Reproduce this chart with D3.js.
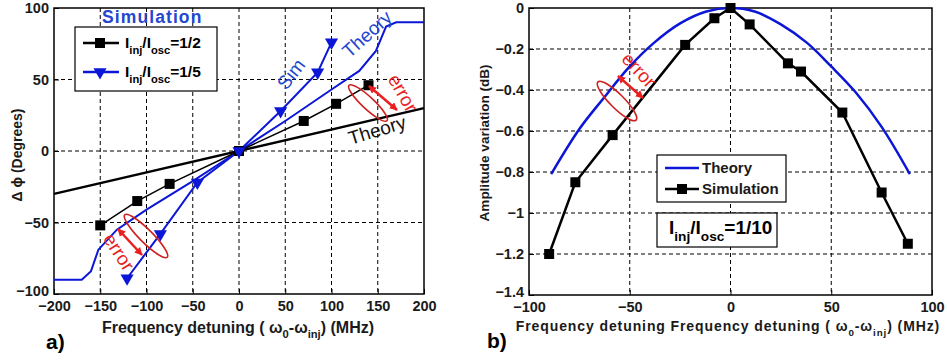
<!DOCTYPE html>
<html>
<head>
<meta charset="utf-8">
<script src="https://cdn.jsdelivr.net/npm/d3@7"></script>
<style>
  body { margin: 0; background: #fff; }
  svg { display: block; font-family: "Liberation Sans", Arial, sans-serif; font-weight: bold; }
</style>
</head>
<body>
<div id="chart"></div>
<script>
// ---- panel a) phase vs detuning
const phaseXTicks = [-200, -150, -100, -50, 0, 50, 100, 150, 200];
const phaseYTicks = [-100, -50, 0, 50, 100];
const theoryHalfX = [-200, 200];
const theoryHalfY = [-30, 30];
const simHalfX = [-150, -110, -75, 0, 70, 105, 140];
const simHalfY = [-52, -35, -23, 0, 21, 33, 46];
const simFifthX = [-121, -85, -45, 0, 45, 85, 100];
const simFifthY = [-89, -58, -22, 0, 28, 55, 76];
const theoryFifthX = [-200, -170, -160, -152, -132, -100, -50, 0, 50, 100, 130, 148, 159, 170, 200];
const theoryFifthY = [-90, -90, -84, -69, -55, -41, -21, 0, 21, 43, 56, 70, 87, 90, 90];

// ---- panel b) amplitude vs detuning
const ampXTicks = [-100, -50, 0, 50, 100];
const ampYTicks = [0, -0.2, -0.4, -0.6, -0.8, -1, -1.2, -1.4];
const ampSimX = [-90, -77, -58.5, -22.5, -8, 0, 9.5, 28.5, 35, 55.5, 75, 88];
const ampSimY = [-1.2, -0.85, -0.62, -0.18, -0.05, 0, -0.08, -0.27, -0.31, -0.51, -0.9, -1.15];
const ampTheoryX = [-89, -75, -63, -50, -38, -25, -12, 0, 12, 25, 38, 50, 62, 75, 89];
const ampTheoryY = [-0.81, -0.59, -0.44, -0.285, -0.17, -0.075, -0.017, 0, -0.017, -0.08, -0.17, -0.285, -0.41, -0.58, -0.81];

const width = 947, height = 360;
const blue = "#0b16d6", textBlue = "#2447cf", red = "#ea1f1f", ellRed = "#cf2020";

const svg = d3.select("#chart").append("svg")
  .attr("width", width).attr("height", height);

const defs = svg.append("defs");
defs.append("marker")
    .attr("id", "head")
    .attr("viewBox", "0 0 10 10")
    .attr("refX", 9).attr("refY", 5)
    .attr("markerWidth", 3.2).attr("markerHeight", 3.2)
    .attr("orient", "auto-start-reverse")
  .append("path")
    .attr("d", "M0,0L10,5L0,10Z")
    .attr("fill", red);

const zip = (xs, ys) => xs.map((x, i) => [x, ys[i]]);

function panel(opt) {
  const x = d3.scaleLinear().domain(opt.xDomain).range([opt.left, opt.right]);
  const y = d3.scaleLinear().domain(opt.yDomain).range([opt.bottom, opt.top]);
  const g = svg.append("g");

  // grid
  g.append("g").selectAll("line")
    .data(opt.xGrid).join("line")
      .attr("x1", d => x(d)).attr("x2", d => x(d))
      .attr("y1", opt.top).attr("y2", opt.bottom)
      .attr("stroke", "#000").attr("stroke-width", 1).attr("stroke-dasharray", "4,3");
  g.append("g").selectAll("line")
    .data(opt.yGrid).join("line")
      .attr("y1", d => y(d)).attr("y2", d => y(d))
      .attr("x1", opt.left).attr("x2", opt.right)
      .attr("stroke", "#000").attr("stroke-width", 1).attr("stroke-dasharray", "4,3");

  const xAxis = g.append("g")
    .attr("transform", `translate(0,${opt.bottom})`)
    .call(d3.axisBottom(x).tickValues(opt.xTicks).tickSize(-5).tickPadding(7).tickFormat(d3.format("d")));
  const yAxis = g.append("g")
    .attr("transform", `translate(${opt.left},0)`)
    .call(d3.axisLeft(y).tickValues(opt.yTicks).tickSize(-5).tickPadding(5).tickFormat(opt.yFormat));
  [xAxis, yAxis].forEach(a => {
    a.select(".domain").remove();
    a.selectAll("line").attr("stroke", "#000");
    a.selectAll("text")
      .attr("fill", "#1a1a1a")
      .style("font-size", "14.5px")
      .style("font-family", "'Liberation Sans', Arial, sans-serif")
      .style("font-weight", "bold");
  });
  // lowest y label sits a little higher, as in the figure
  yAxis.selectAll(".tick").filter(d => d === opt.yDomain[0]).select("text").attr("dy", "0.1em");

  g.append("rect")
    .attr("x", opt.left).attr("y", opt.top)
    .attr("width", opt.right - opt.left).attr("height", opt.bottom - opt.top)
    .attr("fill", "none").attr("stroke", "#000").attr("stroke-width", 1.5);

  return { x, y, g };
}

function ratio(parent, x, y, size, tail, subShift) {
  const t = parent.append("text").attr("x", x).attr("y", y)
    .style("font-size", size + "px").attr("fill", "#000");
  const sub = size * 0.72;
  t.append("tspan").text("I");
  t.append("tspan").attr("dy", subShift).style("font-size", sub + "px").text("inj");
  t.append("tspan").attr("dy", -subShift).text("/I");
  t.append("tspan").attr("dy", subShift).style("font-size", sub + "px").text("osc");
  t.append("tspan").attr("dy", -subShift).text(tail);
  return t;
}

function xLabel(parent, x, y, prefix, size, spacing) {
  const t = parent.append("text").attr("x", x).attr("y", y)
    .attr("text-anchor", "middle")
    .style("font-size", size + "px")
    .style("letter-spacing", spacing + "px")
    .attr("fill", "#1a1a1a");
  const s = size * 0.7;
  t.append("tspan").text(prefix + "( \u03c9");
  t.append("tspan").attr("dy", 5).style("font-size", s + "px").text("0");
  t.append("tspan").attr("dy", -5).text("-\u03c9");
  t.append("tspan").attr("dy", 5).style("font-size", s + "px").text("inj");
  t.append("tspan").attr("dy", -5).text(") (MHz)");
}

function ellipse(parent, cx, cy, rx, ry, angle) {
  parent.append("ellipse")
    .attr("transform", `translate(${cx},${cy}) rotate(${angle})`)
    .attr("rx", rx).attr("ry", ry)
    .attr("fill", "none").attr("stroke", ellRed).attr("stroke-width", 1.6);
}

function arrow(parent, x1, y1, x2, y2) {
  parent.append("line")
    .attr("x1", x1).attr("y1", y1).attr("x2", x2).attr("y2", y2)
    .attr("stroke", red).attr("stroke-width", 2.5)
    .attr("marker-start", "url(#head)").attr("marker-end", "url(#head)");
}

function note(parent, x, y, txt, angle, color, size) {
  parent.append("text")
    .attr("transform", `translate(${x},${y}) rotate(${angle})`)
    .attr("text-anchor", "middle").attr("dy", "0.35em")
    .style("font-size", size + "px").style("font-weight", "normal")
    .attr("fill", color).text(txt);
}

// ================= panel a
const A = panel({
  left: 54, right: 424, top: 8, bottom: 294,
  xDomain: [-200, 200], yDomain: [-100, 100],
  xTicks: phaseXTicks, yTicks: phaseYTicks,
  xGrid: [-150, -100, -50, 0, 50, 100, 150], yGrid: [-50, 0, 50],
  yFormat: d3.format("d")
});
const lineA = d3.line().x(d => A.x(d[0])).y(d => A.y(d[1]));

A.g.append("path").datum(zip(theoryHalfX, theoryHalfY))
  .attr("d", lineA).attr("fill", "none").attr("stroke", "#000").attr("stroke-width", 2.5);
A.g.append("path").datum(zip(theoryFifthX, theoryFifthY))
  .attr("d", lineA).attr("fill", "none").attr("stroke", blue).attr("stroke-width", 2);
A.g.append("path").datum(zip(simHalfX, simHalfY))
  .attr("d", lineA).attr("fill", "none").attr("stroke", "#000").attr("stroke-width", 1.5);
A.g.append("path").datum(zip(simFifthX, simFifthY))
  .attr("d", lineA).attr("fill", "none").attr("stroke", blue).attr("stroke-width", 2);

A.g.append("g").selectAll("rect")
  .data(zip(simHalfX, simHalfY)).join("rect")
    .attr("x", d => A.x(d[0]) - 5).attr("y", d => A.y(d[1]) - 5)
    .attr("width", 10).attr("height", 10).attr("fill", "#000");
const tri = d3.symbol().type(d3.symbolTriangle).size(75);
A.g.append("g").selectAll("path")
  .data(zip(simFifthX, simFifthY)).join("path")
    .attr("d", tri)
    .attr("transform", d => `translate(${A.x(d[0])},${A.y(d[1])}) rotate(180)`)
    .attr("fill", blue);

// legend a
const legA = A.g.append("g");
legA.append("rect").attr("x", 75).attr("y", 27).attr("width", 142).attr("height", 64)
  .attr("fill", "#fff").attr("stroke", "#000").attr("stroke-width", 1.2);
legA.append("line").attr("x1", 83).attr("x2", 119).attr("y1", 43).attr("y2", 43)
  .attr("stroke", "#000").attr("stroke-width", 2.5);
legA.append("rect").attr("x", 95).attr("y", 38).attr("width", 10).attr("height", 10).attr("fill", "#000");
legA.append("line").attr("x1", 83).attr("x2", 119).attr("y1", 72).attr("y2", 72)
  .attr("stroke", blue).attr("stroke-width", 2.5);
legA.append("path").attr("d", tri).attr("transform", "translate(100,72) rotate(180)").attr("fill", blue);
ratio(legA, 125, 48, 15.5, "=1/2", 6);
ratio(legA, 125, 77, 15.5, "=1/5", 6);
legA.append("text").attr("x", 102).attr("y", 23)
  .style("font-size", "17.5px").style("letter-spacing", "1.1px")
  .attr("fill", textBlue).text("Simulation");

// notes a
note(A.g, 291, 74, "Sim", -52, textBlue, 19);
note(A.g, 367, 34, "Theory", -42, textBlue, 19);
note(A.g, 377, 130, "Theory", -17, "#111", 19);
note(A.g, 403, 93, "error", 60, red, 19);
ellipse(A.g, 368, 103, 26, 6, 43);
arrow(A.g, 369, 86, 397, 110);
note(A.g, 119, 252, "error", 57, red, 19);
ellipse(A.g, 146, 236, 30, 6.5, 45);
arrow(A.g, 118, 229, 142, 255);

// labels a
A.g.append("text")
  .attr("transform", "translate(22,155) rotate(-90)")
  .attr("text-anchor", "middle")
  .style("font-size", "14px").attr("fill", "#1a1a1a")
  .text("\u0394 \u03d5 (Degrees)");
xLabel(A.g, 238, 333, "Frequency detuning ", 16, 0);
A.g.append("text").attr("x", 46).attr("y", 349)
  .style("font-size", "21px").attr("fill", "#000").text("a)");

// ================= panel b
const B = panel({
  left: 529, right: 932, top: 8, bottom: 295,
  xDomain: [-100, 100], yDomain: [-1.4, 0],
  xTicks: ampXTicks, yTicks: ampYTicks,
  xGrid: [-50, 0, 50], yGrid: [-0.2, -0.4, -0.6, -0.8, -1, -1.2],
  yFormat: d => d3.format("")(+d.toFixed(1))
});

B.g.append("path").datum(zip(ampTheoryX, ampTheoryY))
  .attr("d", d3.line().x(d => B.x(d[0])).y(d => B.y(d[1])).curve(d3.curveCatmullRom))
  .attr("fill", "none").attr("stroke", blue).attr("stroke-width", 2.5);
B.g.append("path").datum(zip(ampSimX, ampSimY))
  .attr("d", d3.line().x(d => B.x(d[0])).y(d => B.y(d[1]))).attr("fill", "none")
  .attr("stroke", "#000").attr("stroke-width", 2.5);
B.g.append("g").selectAll("rect")
  .data(zip(ampSimX, ampSimY)).join("rect")
    .attr("x", d => B.x(d[0]) - 5).attr("y", d => B.y(d[1]) - 5)
    .attr("width", 10).attr("height", 10).attr("fill", "#000");

// legend b
const legB = B.g.append("g");
legB.append("rect").attr("x", 657).attr("y", 155).attr("width", 129).attr("height", 47)
  .attr("fill", "#fff").attr("stroke", "#000").attr("stroke-width", 1.2);
legB.append("line").attr("x1", 665).attr("x2", 699).attr("y1", 168).attr("y2", 168)
  .attr("stroke", blue).attr("stroke-width", 2.5);
legB.append("line").attr("x1", 665).attr("x2", 699).attr("y1", 189).attr("y2", 189)
  .attr("stroke", "#000").attr("stroke-width", 2.5);
legB.append("rect").attr("x", 677).attr("y", 184).attr("width", 10).attr("height", 10).attr("fill", "#000");
legB.append("text").attr("x", 702).attr("y", 173).style("font-size", "15px").attr("fill", "#1a1a1a").text("Theory");
legB.append("text").attr("x", 702).attr("y", 194).style("font-size", "15px").attr("fill", "#1a1a1a").text("Simulation");

legB.append("rect").attr("x", 657).attr("y", 213).attr("width", 120).attr("height", 34)
  .attr("fill", "#fff").attr("stroke", "#000").attr("stroke-width", 1.2);
ratio(legB, 669, 234, 19, "=1/10", 7);

// notes b
note(B.g, 639, 70, "error", 47, red, 19);
ellipse(B.g, 617, 101, 27, 7, 45);
arrow(B.g, 618, 76, 643, 98);

// labels b
B.g.append("text")
  .attr("transform", "translate(489,143) rotate(-90)")
  .attr("text-anchor", "middle")
  .style("font-size", "13.5px").attr("fill", "#1a1a1a")
  .text("Amplitude variation (dB)");
xLabel(B.g, 728, 331, "Frequency detuning Frequency detuning ", 14, 0.9);
B.g.append("text").attr("x", 487).attr("y", 348)
  .style("font-size", "21px").attr("fill", "#000").text("b)");
</script>
</body>
</html>
